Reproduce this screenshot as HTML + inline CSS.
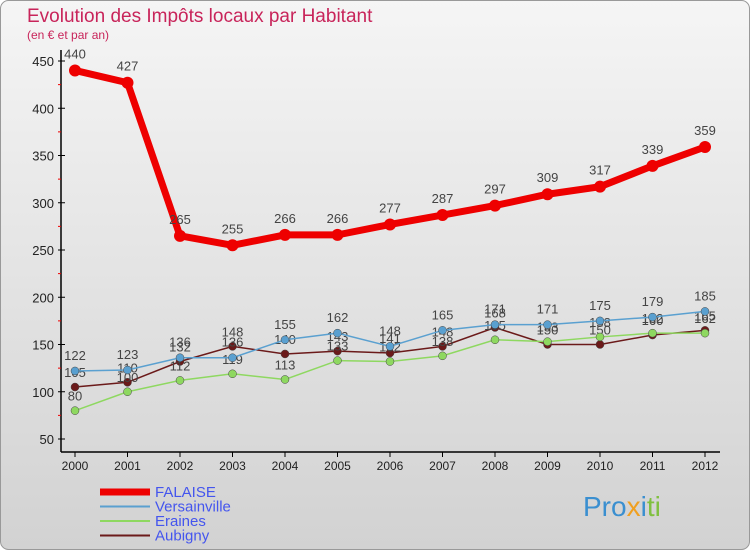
<!DOCTYPE html>
<html><head><meta charset="utf-8"><style>
body{margin:0;background:#fff}
svg text{font-family:"Liberation Sans",sans-serif}
</style></head><body>
<svg width="750" height="550" xmlns="http://www.w3.org/2000/svg">
<defs><linearGradient id="bg" x1="0" y1="0" x2="0" y2="1"><stop offset="0" stop-color="#f5f5f5"/><stop offset="1" stop-color="#d2d2d2"/></linearGradient></defs>
<rect x="0.5" y="0.5" width="749" height="549" rx="8" fill="url(#bg)" stroke="#999"/>
<text x="27" y="22" font-size="19" fill="#c8245a">Evolution des Impôts locaux par Habitant</text>
<text x="27" y="39" font-size="12" fill="#c8245a">(en € et par an)</text>
<g id="axes"></g>
<g id="series"></g>
<g id="legend" font-size="15"></g>
<text x="583" y="516" font-size="28" fill="#3a8fd0">Pro<tspan fill="#f0a020">x</tspan><tspan fill="#3a8fd0">i</tspan><tspan fill="#80c040">ti</tspan></text>
</svg>
<script>
const years=[2000,2001,2002,2003,2004,2005,2006,2007,2008,2009,2010,2011,2012];
const yTicks=[50,100,150,200,250,300,350,400,450];
const falaise=[440,427,265,255,266,266,277,287,297,309,317,339,359];
const versainville=[122,123,136,136,155,162,148,165,171,171,175,179,185];
const eraines=[80,100,112,119,113,133,132,138,155,153,158,162,162];
const aubigny=[105,110,132,148,140,143,141,148,168,150,150,160,165];
const NS="http://www.w3.org/2000/svg";
const X=i=>75+i*52.5, Y=v=>439-(v-50)*0.945;
function mk(tag,attrs,parent,txt){const e=document.createElementNS(NS,tag);for(const k in attrs)e.setAttribute(k,attrs[k]);if(txt!==undefined)e.textContent=txt;parent.appendChild(e);return e;}
const ax=document.getElementById('axes');
let e=mk('line',{x1:61,y1:50,x2:61,y2:452,stroke:'#000','stroke-width':1.5},ax);

e=mk('line',{x1:61,y1:452,x2:720,y2:452,stroke:'#000','stroke-width':1.5},ax);

yTicks.forEach((t,i)=>{
 mk('line',{x1:58,y1:Y(t),x2:65,y2:Y(t),stroke:'#000'},ax);
 e=mk('text',{x:54,y:Y(t)+5,'font-size':13,'text-anchor':'end',fill:'#222'},ax,t);
 
 if(i<yTicks.length-1) mk('line',{x1:58,y1:Y(t+25),x2:61,y2:Y(t+25),stroke:'#e00'},ax);
});
years.forEach((y,i)=>{
 mk('line',{x1:X(i),y1:452,x2:X(i),y2:457,stroke:'#000'},ax);
 e=mk('text',{x:X(i),y:470,'font-size':12,'text-anchor':'middle',fill:'#222'},ax,y);
 
});
const sg=document.getElementById('series');
const defs=[
 {n:'aubigny',d:aubigny,c:'#6b1a1a',w:1.5,r:4,dy:-10},
 {n:'eraines',d:eraines,c:'#8ed860',w:1.5,r:4,dy:-10},
 {n:'versainville',d:versainville,c:'#5aa0d0',w:1.5,r:4,dy:-11},
 {n:'falaise',d:falaise,c:'#ee0000',w:7,r:6,dy:-12}];
defs.forEach(s=>{
 const g=mk('g',{},sg);
 
 e=mk('polyline',{points:s.d.map((v,i)=>X(i)+','+Y(v)).join(' '),fill:'none',stroke:s.c,'stroke-width':s.w},g);
 
 s.d.forEach((v,i)=>{
  e=mk('circle',{cx:X(i),cy:Y(v),r:s.r,fill:s.c,stroke:s.n==='falaise'?'none':'#444','stroke-width':0.5},g);
  
  e=mk('text',{x:X(i),y:Y(v)+s.dy,'font-size':13,'text-anchor':'middle',fill:'#444'},g,v);
  
 });
});
const lg=document.getElementById('legend');
[['FALAISE','#ee0000',7],['Versainville','#5aa0d0',2],['Eraines','#8ed860',2],['Aubigny','#6b1a1a',2]].forEach((l,i)=>{
 const y=492+i*14.5;
 const g=mk('g',{},lg);
 
 mk('line',{x1:100,y1:y,x2:150,y2:y,stroke:l[1],'stroke-width':l[2]},g);
 mk('text',{x:155,y:y+5,fill:'#4455ee'},g,l[0]);
});
</script>
</body></html>
